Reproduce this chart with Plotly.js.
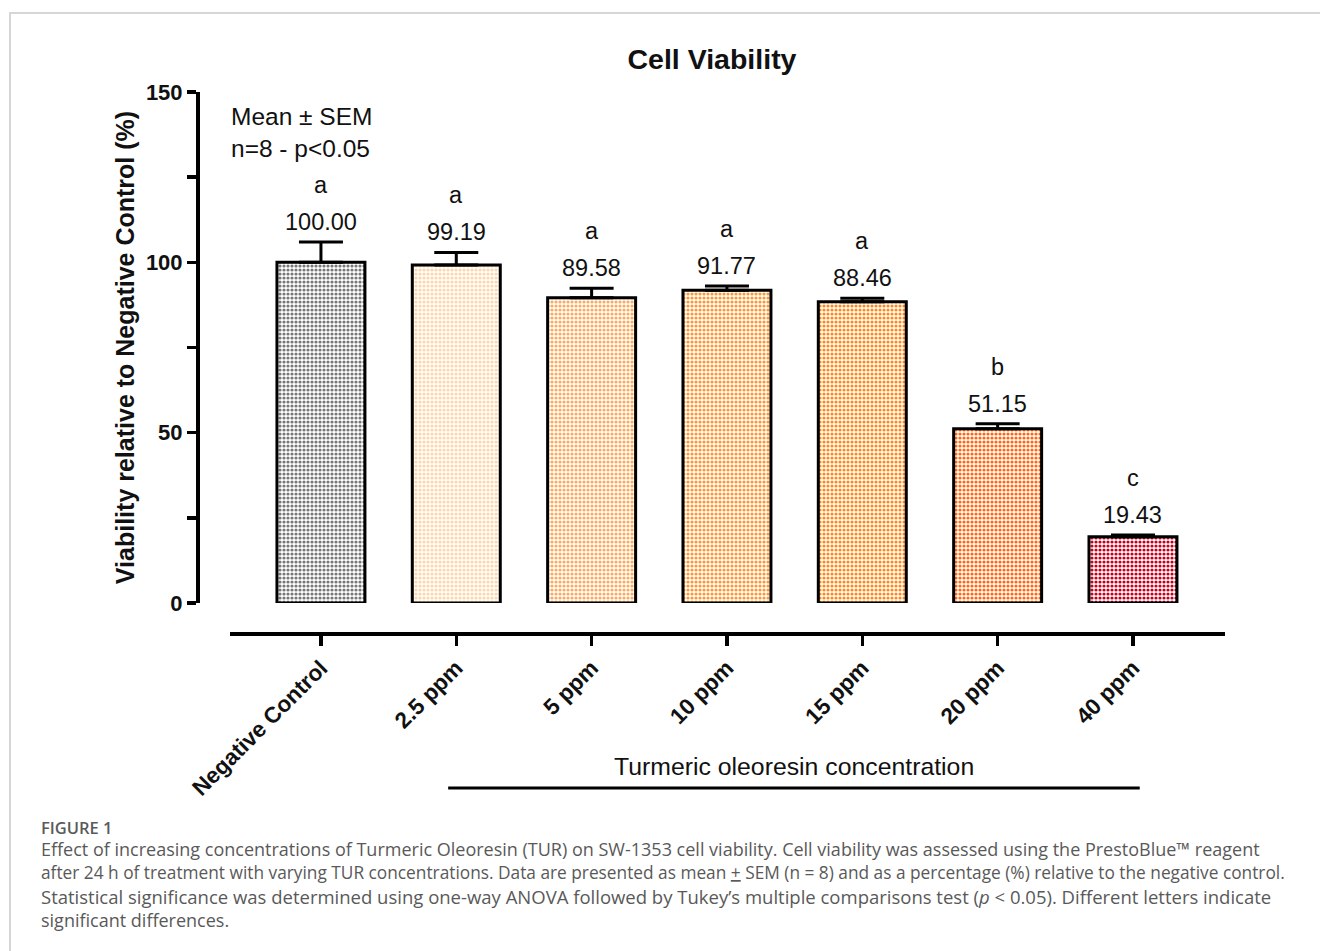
<!DOCTYPE html>
<html>
<head>
<meta charset="utf-8">
<script src="https://cdn.plot.ly/plotly-3.0.1.min.js"></script>
<style>
  html, body { margin: 0; padding: 0; background: #fff; }
  #wrap { position: relative; width: 1320px; height: 951px; overflow: hidden; }
  #chart { position: absolute; left: 0; top: 0; width: 1320px; height: 951px; }
  #frame { position: absolute; left: 9px; top: 12px; right: -10px; bottom: -10px;
           border-top: 2px solid #d6d6d6; border-left: 2px solid #d6d6d6; pointer-events: none; }
</style>
</head>
<body>
<div id="wrap">
  <div id="chart"></div>
  <div id="frame"></div>
</div>
<script>
// Treatment groups and measured viability (% of negative control)
const categories = ['Negative Control', '2.5 ppm', '5 ppm', '10 ppm', '15 ppm', '20 ppm', '40 ppm'];
const viability = [100.00, 99.19, 89.58, 91.77, 88.46, 51.15, 19.43];
const sem = [6.0, 3.7, 2.8, 1.3, 1.0, 1.5, 0.5];
const groupLetters = ['a', 'a', 'a', 'a', 'a', 'b', 'c'];
const barColors = ['#777777', '#fdd6aa', '#f9aa5c', '#f99834', '#fc8818', '#ff660e', '#c2001c'];

const captionLines = [
  'Effect of increasing concentrations of Turmeric Oleoresin (TUR) on SW-1353 cell viability. Cell viability was assessed using the PrestoBlue\u2122 reagent',
  'after 24 h of treatment with varying TUR concentrations. Data are presented as mean <u>+</u> SEM (n = 8) and as a percentage (%) relative to the negative control.',
  'Statistical significance was determined using one-way ANOVA followed by Tukey\u2019s multiple comparisons test (<i>p</i> &lt; 0.05). Different letters indicate',
  'significant differences.'
];
// per-line sizes so each justified caption line spans the text column
const captionSizes = [18, 17.3, 18.5, 18];

// Page geometry helpers (pixel -> paper coordinates)
const W = 1320, H = 951;
const M = { l: 150, r: 60, t: 40, b: 251 };
const PW = W - M.l - M.r, PH = H - M.t - M.b;
const px = x => (x - M.l) / PW;
const py = y => (H - M.b - y) / PH;

const FONT = 'Liberation Sans, Arial, sans-serif';
const CAP_FONT = 'Open Sans, sans-serif';

const bars = {
  type: 'bar',
  x: categories,
  y: viability,
  width: 0.65,
  marker: {
    color: barColors,
    line: { color: '#000', width: 3 },
    pattern: { shape: '.', fgcolor: barColors, bgcolor: '#ffffff', size: 4, solidity: 0.5, fillmode: 'replace' }
  },
  error_y: {
    type: 'data', symmetric: false, array: sem, arrayminus: sem.map(() => 0),
    color: '#000', thickness: 3, width: 22
  },
  hoverinfo: 'x+y'
};

const annotations = [];
categories.forEach((c, i) => {
  annotations.push({
    x: c, y: viability[i] + sem[i], xref: 'x', yref: 'y',
    text: viability[i].toFixed(2), showarrow: false, yanchor: 'bottom', yshift: 5,
    font: { family: FONT, size: 23.5, color: '#111' }
  });
  annotations.push({
    x: c, y: viability[i] + sem[i], xref: 'x', yref: 'y',
    text: groupLetters[i], showarrow: false, yanchor: 'bottom', yshift: 42,
    font: { family: FONT, size: 23.5, color: '#111' }
  });
});

annotations.push({
  xref: 'paper', yref: 'paper', x: px(229), y: py(133), xanchor: 'left', yanchor: 'middle',
  align: 'left', showarrow: false,
  text: 'Mean \u00b1 SEM<br>n=8 - p&lt;0.05',
  font: { family: FONT, size: 24.5, color: '#111' }
});

annotations.push({
  xref: 'x', yref: 'paper', x: 3.495, y: py(766), xanchor: 'center', yanchor: 'middle',
  showarrow: false, text: 'Turmeric oleoresin concentration',
  font: { family: FONT, size: 24.8, color: '#111' }
});

annotations.push({
  xref: 'paper', yref: 'paper', x: px(39), y: py(827), xanchor: 'left', yanchor: 'middle',
  showarrow: false, text: 'FIGURE 1',
  font: { family: CAP_FONT, size: 16.5, color: '#5a5a5a', weight: 600 }
});
captionLines.forEach((line, i) => {
  annotations.push({
    xref: 'paper', yref: 'paper', x: px(39), y: py(849 + i * 23.5), xanchor: 'left', yanchor: 'middle',
    align: 'left', showarrow: false, text: line,
    font: { family: CAP_FONT, size: captionSizes[i], color: '#595959' }
  });
});

const layout = {
  width: W, height: H,
  margin: M,
  paper_bgcolor: 'rgba(0,0,0,0)',
  plot_bgcolor: 'rgba(0,0,0,0)',
  showlegend: false,
  title: {
    text: 'Cell Viability', xref: 'container', yref: 'container',
    x: 712 / W, y: 1 - 59 / H, xanchor: 'center', yanchor: 'middle',
    font: { family: FONT, size: 28.5, color: '#111', weight: 'bold' }
  },
  xaxis: {
    domain: [px(230), px(1225)],
    range: [-0.672, 6.68],
    anchor: 'free', position: py(634),
    showline: true, linecolor: '#000', linewidth: 4,
    ticks: 'outside', ticklen: 10, tickwidth: 3.5, tickcolor: '#000',
    tickangle: -45, showgrid: false, zeroline: false,
    tickfont: { family: FONT, size: 22.5, color: '#111', weight: 'bold' },
    fixedrange: true
  },
  yaxis: {
    domain: [py(603), py(92)],
    range: [0, 150],
    anchor: 'free', position: px(197),
    showline: true, linecolor: '#000', linewidth: 3.5,
    ticks: 'outside', ticklen: 9, tickwidth: 3.5, tickcolor: '#000',
    tickvals: [0, 50, 100, 150],
    minor: { tickvals: [25, 75, 125], ticks: 'outside', ticklen: 9, tickwidth: 3.5, tickcolor: '#000', showgrid: false },
    showgrid: false, zeroline: false,
    tickfont: { family: FONT, size: 22, color: '#111', weight: 'bold' },
    title: { text: 'Viability relative to Negative Control (%)', standoff: 2,
             font: { family: FONT, size: 25, color: '#111', weight: 'bold' } },
    fixedrange: true
  },
  shapes: [{
    type: 'line', xref: 'x', yref: 'paper', x0: 0.94, x1: 6.05, y0: py(788), y1: py(788),
    line: { color: '#000', width: 3 }
  }],
  annotations: annotations
};

Plotly.newPlot('chart', [bars], layout, { displayModeBar: false, staticPlot: true });
</script>
</body>
</html>
